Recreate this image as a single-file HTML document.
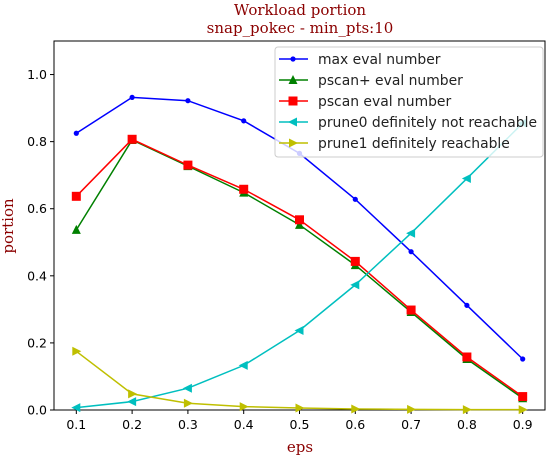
<!DOCTYPE html>
<html><head><meta charset="utf-8"><style>body{margin:0;background:#fff}</style></head>
<body>
<svg id="chart" width="553" height="456" xmlns="http://www.w3.org/2000/svg" font-family="DejaVu Sans, Liberation Sans, sans-serif">
<text x="300" y="15" text-anchor="middle" font-family="DejaVu Serif, Liberation Serif, serif" font-size="15" fill="#8b0000">Workload portion</text>
<text x="300" y="33" text-anchor="middle" font-family="DejaVu Serif, Liberation Serif, serif" font-size="15" fill="#8b0000">snap_pokec - min_pts:10</text>
<text x="300" y="452" text-anchor="middle" font-family="DejaVu Serif, Liberation Serif, serif" font-size="15" fill="#8b0000">eps</text>
<text transform="translate(13,226) rotate(-90)" text-anchor="middle" font-family="DejaVu Serif, Liberation Serif, serif" font-size="15" fill="#8b0000">portion</text>
<g id="plot"></g>
</svg>
<script>
const categories=[0.1,0.2,0.3,0.4,0.5,0.6,0.7,0.8,0.9];
const maxEval=[0.825,0.932,0.922,0.862,0.765,0.628,0.472,0.312,0.152];
const pscanPlus=[0.537,0.805,0.727,0.648,0.552,0.432,0.292,0.152,0.035];
const pscan=[0.637,0.807,0.730,0.658,0.567,0.443,0.298,0.158,0.040];
const prune0=[0.007,0.025,0.065,0.133,0.237,0.373,0.527,0.69,0.855];
const prune1=[0.175,0.048,0.02,0.01,0.006,0.003,0.002,0.001,0.001];
const yTicks=[0.0,0.2,0.4,0.6,0.8,1.0];
const xTicks=[0.1,0.2,0.3,0.4,0.5,0.6,0.7,0.8,0.9];
const L=54,R=545,T=41,B=410,x0=0.06,x1=0.94,y0=0,y1=1.1;
const X=v=>L+(v-x0)/(x1-x0)*(R-L), Y=v=>B-(v-y0)/(y1-y0)*(B-T);
const NS='http://www.w3.org/2000/svg', g=document.getElementById('plot');
function mk(t,a,p){const e=document.createElementNS(NS,t);for(const k in a)e.setAttribute(k,a[k]);(p||g).appendChild(e);return e;}
const fr=mk('rect',{x:L,y:T,width:R-L,height:B-T,fill:'none',stroke:'#000','stroke-width':1});


yTicks.forEach(v=>{mk('line',{x1:L-4,x2:L,y1:Y(v),y2:Y(v),stroke:'#000'});
 const t=mk('text',{x:L-7,y:Y(v)+4.5,'text-anchor':'end','font-size':12.5});t.textContent=v.toFixed(1);
 
 });
xTicks.forEach(v=>{mk('line',{x1:X(v),x2:X(v),y1:B,y2:B+4,stroke:'#000'});
 const t=mk('text',{x:X(v),y:B+19,'text-anchor':'middle','font-size':12.5});t.textContent=v.toFixed(1);
 
 });
function marker(type,cx,cy,c,p){
 if(type==='dot')return mk('circle',{cx,cy,r:2.6,fill:c},p);
 if(type==='sq')return mk('rect',{x:cx-4.5,y:cy-4.5,width:9,height:9,fill:c},p);
 let pts;
 if(type==='up')pts=[[cx,cy-5],[cx-4.5,cy+4],[cx+4.5,cy+4]];
 if(type==='left')pts=[[cx-5,cy],[cx+4,cy-4.5],[cx+4,cy+4.5]];
 if(type==='right')pts=[[cx+5,cy],[cx-4,cy-4.5],[cx-4,cy+4.5]];
 return mk('polygon',{points:pts.map(p=>p.join(',')).join(' '),fill:c},p);
}
const series=[[maxEval,'#0000ff','dot','max eval number','series-max-eval'],
[pscanPlus,'#008000','up','pscan+ eval number','series-pscan-plus'],
[pscan,'#ff0000','sq','pscan eval number','series-pscan'],
[prune0,'#00bfbf','left','prune0 definitely not reachable','series-prune0'],
[prune1,'#bfbf00','right','prune1 definitely reachable','series-prune1']];
series.forEach(([d,c,m,lab,nm])=>{
 const sg=mk('g',{});
 
 
 mk('polyline',{points:d.map((v,i)=>X(categories[i])+','+Y(v)).join(' '),fill:'none',stroke:c,'stroke-width':1.5},sg);
 d.forEach((v,i)=>marker(m,X(categories[i]),Y(v),c,sg));
});
const lg=mk('g',{});


mk('rect',{x:275,y:47,width:268,height:110,rx:3,fill:'#fff','fill-opacity':0.8,stroke:'#ccc'},lg);
series.forEach(([d,c,m,lab],i)=>{
 const yy=59+i*21;
 const eg=mk('g',{},lg);
 
 
 mk('line',{x1:279,x2:308,y1:yy,y2:yy,stroke:c,'stroke-width':1.5},eg);
 marker(m,293,yy,c,eg);
 const t=mk('text',{x:318,y:yy+5,'font-size':13.9,fill:'#222'},eg);
 t.textContent=lab;
});
</script>
</body></html>
